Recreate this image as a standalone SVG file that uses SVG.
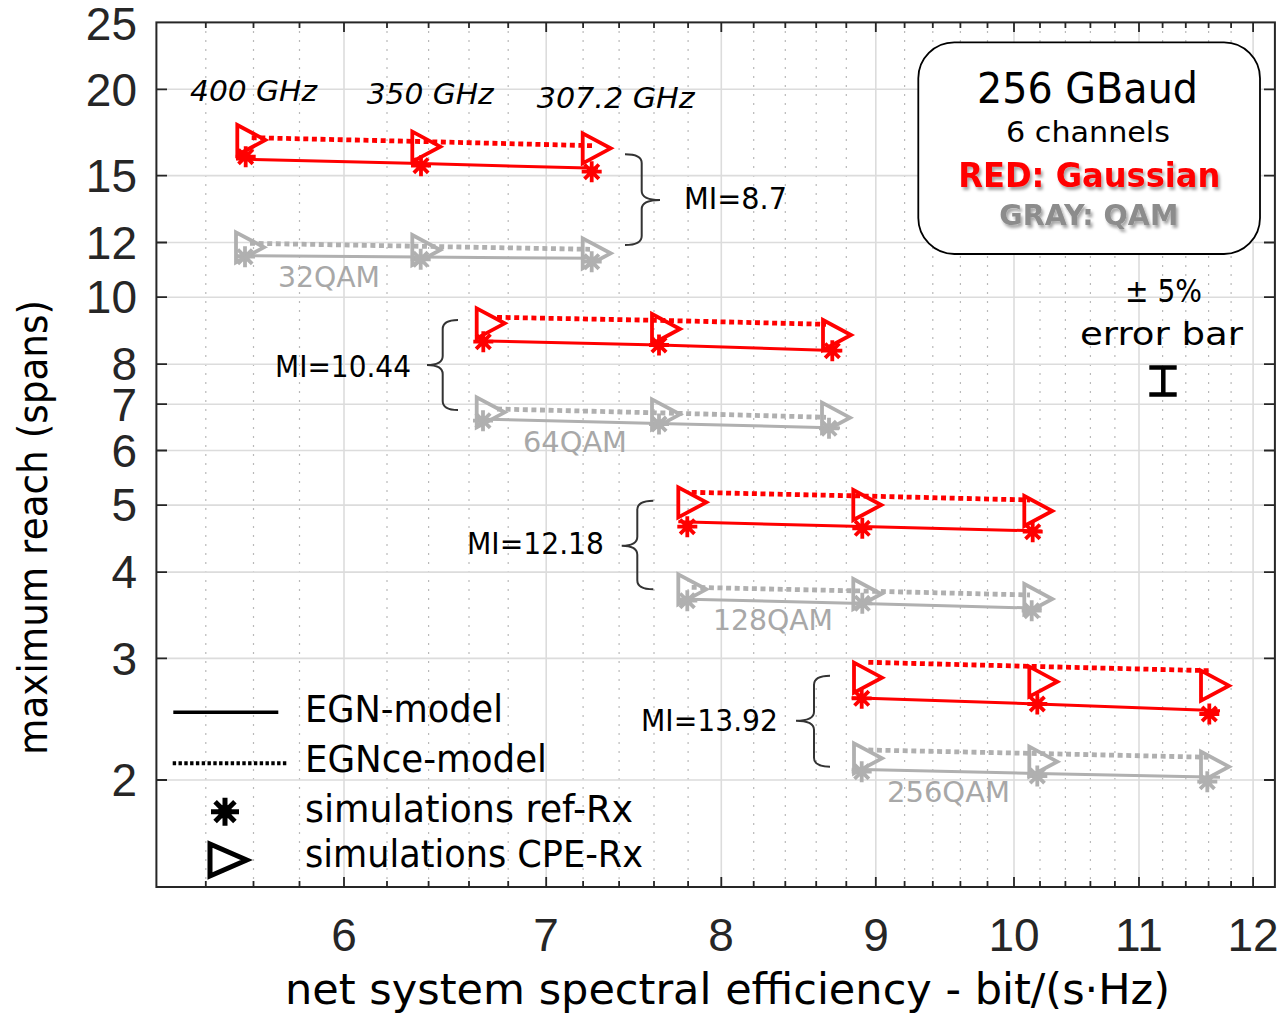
<svg xmlns="http://www.w3.org/2000/svg" xmlns:xlink="http://www.w3.org/1999/xlink" width="1284" height="1015" viewBox="0 0 1284 1015">
<style>
.gmin{stroke:#b9b9b9;stroke-width:1.2;stroke-dasharray:2 7;fill:none}
.gmaj{stroke:#dcdcdc;stroke-width:1.6;fill:none}
.axis{stroke:#262626;stroke-width:2;fill:none}
.tick{stroke:#262626;stroke-width:1.8}
.ax{font-family:"Liberation Sans",Arial,sans-serif;font-size:46px;fill:#262626}
.t{font-family:"DejaVu Sans","Noto Sans",sans-serif;fill:#000}
.it{font-style:italic}
.qam{fill:#a8a8a8;font-size:29px}
.mi{font-size:30px}
.leg{font-size:37px}
.rs{stroke:#ff0000;stroke-width:3;fill:none}
.rd{stroke:#ff0000;stroke-width:4.8;stroke-dasharray:5 3.6;fill:none}
.gs{stroke:#b0b0b0;stroke-width:3;fill:none}
.gd{stroke:#b0b0b0;stroke-width:4.8;stroke-dasharray:5 3.6;fill:none}
.rm{stroke:#ff0000;stroke-width:3.8;fill:none}
.gm{stroke:#b0b0b0;stroke-width:3.8;fill:none}
.brace{stroke:#333;stroke-width:2;fill:none}
</style>
<defs>
<path id="star" d="M-10,0H10M0,-10.5V10.5M-7.2,-7.2L7.2,7.2M-7.2,7.2L7.2,-7.2"/>
<path id="tri" d="M0,0L28,15L0,30Z"/>
<filter id="sh" x="-10%" y="-30%" width="130%" height="180%">
<feDropShadow dx="2" dy="3" stdDeviation="1.6" flood-color="#000" flood-opacity="0.35"/>
</filter>
</defs>
<rect width="1284" height="1015" fill="#fff"/>
<g id="grid">
<g class="gmin">
<path d="M205.8,22V887M253.5,22V887M299.5,22V887M387,22V887M428.6,22V887M469,22V887M508.2,22V887M583.1,22V887M619.1,22V887M654,22V887M688.1,22V887M753.7,22V887M785.3,22V887M816.2,22V887M846.3,22V887M904.6,22V887M932.8,22V887M960.4,22V887M987.5,22V887M1040,22V887M1065.4,22V887M1090.4,22V887M1114.9,22V887M1162.6,22V887M1185.8,22V887M1208.6,22V887M1231.1,22V887"/>
</g>
<g class="gmaj">
<path d="M344,22V887M546.2,22V887M721.3,22V887M875.8,22V887M1014,22V887M1139,22V887M1253.1,22V887"/>
<path d="M156,780H1275M156,658.4H1275M156,572.1H1275M156,505.1H1275M156,450.5H1275M156,404.2H1275M156,364.2H1275M156,297.2H1275M156,242.5H1275M156,175.6H1275M156,89.3H1275"/>
</g>
</g>
<g id="axes">
<rect class="axis" x="156.4" y="22.4" width="1118.5" height="864.6"/>
<path class="tick" d="M156,780h11M156,658.4h11M156,572.1h11M156,505.1h11M156,450.5h11M156,404.2h11M156,364.2h11M156,297.2h11M156,242.5h11M156,175.6h11M156,89.3h11M1275,780h-11M1275,658.4h-11M1275,572.1h-11M1275,505.1h-11M1275,450.5h-11M1275,404.2h-11M1275,364.2h-11M1275,297.2h-11M1275,242.5h-11M1275,175.6h-11M1275,89.3h-11"/>
<path class="tick" d="M344,22v10M546.2,22v10M721.3,22v10M875.8,22v10M1014,22v10M1139,22v10M1253.1,22v10M344,887v-10M546.2,887v-10M721.3,887v-10M875.8,887v-10M1014,887v-10M1139,887v-10M1253.1,887v-10"/>
<path class="tick" d="M205.8,22v6M253.5,22v6M299.5,22v6M387,22v6M428.6,22v6M469,22v6M508.2,22v6M583.1,22v6M619.1,22v6M654,22v6M688.1,22v6M753.7,22v6M785.3,22v6M816.2,22v6M846.3,22v6M904.6,22v6M932.8,22v6M960.4,22v6M987.5,22v6M1040,22v6M1065.4,22v6M1090.4,22v6M1114.9,22v6M1162.6,22v6M1185.8,22v6M1208.6,22v6M1231.1,22v6M205.8,887v-6M253.5,887v-6M299.5,887v-6M387,887v-6M428.6,887v-6M469,887v-6M508.2,887v-6M583.1,887v-6M619.1,887v-6M654,887v-6M688.1,887v-6M753.7,887v-6M785.3,887v-6M816.2,887v-6M846.3,887v-6M904.6,887v-6M932.8,887v-6M960.4,887v-6M987.5,887v-6M1040,887v-6M1065.4,887v-6M1090.4,887v-6M1114.9,887v-6M1162.6,887v-6M1185.8,887v-6M1208.6,887v-6M1231.1,887v-6"/>
<g class="ax" text-anchor="end">
<text x="137" y="40">25</text>
<text x="137" y="106">20</text>
<text x="137" y="192">15</text>
<text x="137" y="259">12</text>
<text x="137" y="313">10</text>
<text x="137" y="380">8</text>
<text x="137" y="421">7</text>
<text x="137" y="467">6</text>
<text x="137" y="521">5</text>
<text x="137" y="588">4</text>
<text x="137" y="675">3</text>
<text x="137" y="796">2</text>
</g>
<g class="ax" text-anchor="middle">
<text x="344" y="951">6</text>
<text x="546" y="951">7</text>
<text x="721" y="951">8</text>
<text x="876" y="951">9</text>
<text x="1014" y="951">10</text>
<text x="1139" y="951">11</text>
<text x="1253" y="951">12</text>
</g>
<text class="t" x="285" y="1004" font-size="42" textLength="885" lengthAdjust="spacingAndGlyphs">net system spectral efficiency - bit/(s·Hz)</text>
<text class="t" transform="translate(47,527.5) rotate(-90)" text-anchor="middle" font-size="40" textLength="455" lengthAdjust="spacingAndGlyphs">maximum reach (spans)</text>
</g>
<g id="connectors">
<g id="g32-red">
<polyline class="rs" points="236,159 421,163.6 598,168.3"/>
<polyline class="rd" points="251.7,137.7 421,141.5 593,145.7"/>
</g>
<g id="g32-gray">
<polyline class="gs" points="236,255.7 421,257 598,258.3"/>
<polyline class="gd" points="250,243.3 421,246.3 590,249.3"/>
</g>
<g id="g64-red">
<polyline class="rs" points="475,340.7 659,345 841,350.7"/>
<polyline class="rd" points="497,317.3 665,320.5 826,324.3"/>
</g>
<g id="g64-gray">
<polyline class="gs" points="475,419 659,423.5 840,428"/>
<polyline class="gd" points="497,409 665,413 826,417.3"/>
</g>
<g id="g128-red">
<polyline class="rs" points="678.3,521.7 862,526.5 1041.7,531"/>
<polyline class="rd" points="691.7,492.3 862,496 1030,500"/>
</g>
<g id="g128-gray">
<polyline class="gs" points="678.3,599 862,603.5 1041.7,608.3"/>
<polyline class="gd" points="691.7,587.3 862,591 1030,595"/>
</g>
<g id="g256-red">
<polyline class="rs" points="851.7,697.7 1037,704 1220,710.7"/>
<polyline class="rd" points="868.3,662.3 1037,666.5 1210,670.7"/>
</g>
<g id="g256-gray">
<polyline class="gs" points="851.7,769.3 1037,773.5 1220,777.3"/>
<polyline class="gd" points="868.3,750 1037,753.5 1210,757.3"/>
</g>
</g>
<g id="markers">
<g id="m-red-stars" class="rm">
<use xlink:href="#star" href="#star" x="245.7" y="156.7"/>
<use xlink:href="#star" href="#star" x="421" y="165.7"/>
<use xlink:href="#star" href="#star" x="591.7" y="171.7"/>
<use xlink:href="#star" href="#star" x="483.3" y="341.7"/>
<use xlink:href="#star" href="#star" x="659" y="345"/>
<use xlink:href="#star" href="#star" x="832.3" y="350.7"/>
<use xlink:href="#star" href="#star" x="687.3" y="526.7"/>
<use xlink:href="#star" href="#star" x="862.3" y="528.3"/>
<use xlink:href="#star" href="#star" x="1032.7" y="531.7"/>
<use xlink:href="#star" href="#star" x="861.7" y="698.3"/>
<use xlink:href="#star" href="#star" x="1037.3" y="704"/>
<use xlink:href="#star" href="#star" x="1209.3" y="714"/>
</g>
<g id="m-red-tri" class="rm">
<use xlink:href="#tri" href="#tri" x="237.3" y="125"/>
<use xlink:href="#tri" href="#tri" x="412.3" y="131.7"/>
<use xlink:href="#tri" href="#tri" x="582.7" y="133.3"/>
<use xlink:href="#tri" href="#tri" x="476.7" y="308.3"/>
<use xlink:href="#tri" href="#tri" x="652" y="314"/>
<use xlink:href="#tri" href="#tri" x="823" y="320"/>
<use xlink:href="#tri" href="#tri" x="678.3" y="487.3"/>
<use xlink:href="#tri" href="#tri" x="853.3" y="490"/>
<use xlink:href="#tri" href="#tri" x="1024.3" y="496"/>
<use xlink:href="#tri" href="#tri" x="854" y="662.7"/>
<use xlink:href="#tri" href="#tri" x="1029.3" y="666.7"/>
<use xlink:href="#tri" href="#tri" x="1201" y="670.7"/>
</g>
<g id="m-gray-stars" class="gm">
<use xlink:href="#star" href="#star" x="245" y="256.7"/>
<use xlink:href="#star" href="#star" x="420.7" y="259.3"/>
<use xlink:href="#star" href="#star" x="591.7" y="261.7"/>
<use xlink:href="#star" href="#star" x="483" y="420.7"/>
<use xlink:href="#star" href="#star" x="659" y="424"/>
<use xlink:href="#star" href="#star" x="829" y="428.3"/>
<use xlink:href="#star" href="#star" x="687.3" y="600.7"/>
<use xlink:href="#star" href="#star" x="862.3" y="603.3"/>
<use xlink:href="#star" href="#star" x="1031.7" y="610.7"/>
<use xlink:href="#star" href="#star" x="861.7" y="771.7"/>
<use xlink:href="#star" href="#star" x="1037.3" y="776"/>
<use xlink:href="#star" href="#star" x="1207.3" y="781.7"/>
</g>
<g id="m-gray-tri" class="gm">
<use xlink:href="#tri" href="#tri" x="236" y="232.3"/>
<use xlink:href="#tri" href="#tri" x="412.3" y="235"/>
<use xlink:href="#tri" href="#tri" x="582.7" y="238.3"/>
<use xlink:href="#tri" href="#tri" x="476.7" y="397.3"/>
<use xlink:href="#tri" href="#tri" x="652" y="399.3"/>
<use xlink:href="#tri" href="#tri" x="822" y="402.7"/>
<use xlink:href="#tri" href="#tri" x="678.3" y="574.3"/>
<use xlink:href="#tri" href="#tri" x="853.3" y="579"/>
<use xlink:href="#tri" href="#tri" x="1024.3" y="584"/>
<use xlink:href="#tri" href="#tri" x="854" y="743.3"/>
<use xlink:href="#tri" href="#tri" x="1029.3" y="746.7"/>
<use xlink:href="#tri" href="#tri" x="1201" y="751.7"/>
</g>
</g>
<g id="braces">
<path class="brace" d="M625,154.3Q641.7,154.3 641.7,163V191Q641.7,200 660,200Q641.7,200 641.7,209V236Q641.7,245 625,245"/>
<path class="brace" d="M458,320Q442.7,320 442.7,329V356Q442.7,365 427,365Q442.7,365 442.7,374V401Q442.7,410 458,410"/>
<path class="brace" d="M653.3,500.7Q637.3,500.7 637.3,509.7V536.7Q637.3,545.7 621.7,545.7Q637.3,545.7 637.3,554.7V580.3Q637.3,589.3 653.3,589.3"/>
<path class="brace" d="M830,675.7Q814,675.7 814,684.7V711.7Q814,720.7 796,720.7Q814,720.7 814,729.7V757.7Q814,766.7 830,766.7"/>
</g>
<g id="labels" class="t">
<text class="it" x="190" y="101" font-size="29" textLength="127" lengthAdjust="spacingAndGlyphs">400 GHz</text>
<text class="it" x="366.7" y="103.5" font-size="29" textLength="127" lengthAdjust="spacingAndGlyphs">350 GHz</text>
<text class="it" x="536.7" y="107.5" font-size="29" textLength="158" lengthAdjust="spacingAndGlyphs">307.2 GHz</text>
<text class="mi" x="684" y="209" textLength="103" lengthAdjust="spacingAndGlyphs">MI=8.7</text>
<text class="mi" x="275" y="377" textLength="136" lengthAdjust="spacingAndGlyphs">MI=10.44</text>
<text class="mi" x="467" y="554" textLength="137" lengthAdjust="spacingAndGlyphs">MI=12.18</text>
<text class="mi" x="641" y="731" textLength="137" lengthAdjust="spacingAndGlyphs">MI=13.92</text>
<text class="qam" x="278" y="287" textLength="102" lengthAdjust="spacingAndGlyphs">32QAM</text>
<text class="qam" x="523" y="451.7" textLength="104" lengthAdjust="spacingAndGlyphs">64QAM</text>
<text class="qam" x="713" y="630" textLength="120" lengthAdjust="spacingAndGlyphs">128QAM</text>
<text class="qam" x="887" y="801.7" textLength="123" lengthAdjust="spacingAndGlyphs">256QAM</text>
</g>
<g id="infobox">
<rect x="918.3" y="42.3" width="341.7" height="211.7" rx="36" fill="#fff" stroke="#000" stroke-width="1.8"/>
<text class="t" x="977" y="102.7" font-size="42" textLength="221" lengthAdjust="spacingAndGlyphs">256 GBaud</text>
<text class="t" x="1006" y="141.7" font-size="29" textLength="164" lengthAdjust="spacingAndGlyphs">6 channels</text>
<text class="t" x="958.3" y="186.7" font-size="34" font-weight="bold" style="fill:#ff0000" filter="url(#sh)" textLength="262" lengthAdjust="spacingAndGlyphs">RED: Gaussian</text>
<text class="t" x="999.3" y="225" font-size="29" font-weight="bold" style="fill:#8c8c8c" filter="url(#sh)" textLength="179" lengthAdjust="spacingAndGlyphs">GRAY: QAM</text>
</g>
<g id="errorbar">
<text class="t" x="1125" y="301.7" font-size="32" textLength="77" lengthAdjust="spacingAndGlyphs">± 5%</text>
<text class="t" x="1080" y="345" font-size="32" textLength="163" lengthAdjust="spacingAndGlyphs">error bar</text>
<path d="M1163.3,366V395M1149.3,367.5H1176.7M1149.3,394.5H1176.7" stroke="#000" stroke-width="4.5" fill="none"/>
</g>
<g id="legend">
<path d="M173.3,712.3H278.3" stroke="#000" stroke-width="3.5"/>
<path d="M172.7,763.3H286.7" stroke="#000" stroke-width="4" stroke-dasharray="3.4 2.4"/>
<g stroke="#000" stroke-width="5">
<path d="M211,811.7H239M225,797.7V825.7M215.1,801.8L234.9,821.6M215.1,821.6L234.9,801.8"/>
</g>
<circle cx="225" cy="811.7" r="7" fill="#000"/>
<path d="M210,844L246.7,860L210,876Z" stroke="#000" stroke-width="5" fill="none" stroke-linejoin="miter"/>
<g class="t leg">
<text x="305" y="721.7" textLength="198" lengthAdjust="spacingAndGlyphs">EGN-model</text>
<text x="305" y="771.7" textLength="242" lengthAdjust="spacingAndGlyphs">EGNce-model</text>
<text x="305" y="821.7" textLength="328" lengthAdjust="spacingAndGlyphs">simulations ref-Rx</text>
<text x="305" y="866.7" textLength="338" lengthAdjust="spacingAndGlyphs">simulations CPE-Rx</text>
</g>
</g>
</svg>
